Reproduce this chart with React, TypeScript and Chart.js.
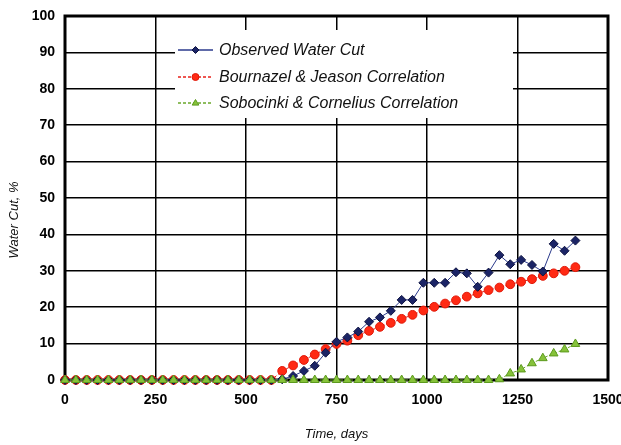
import React, { useEffect, useRef } from "react";
import { Chart, registerables } from "chart.js";

Chart.register(...registerables);

// Sampling days (every 30 days)
const days = [
  0, 30, 60, 90, 120, 150, 180, 210, 240, 270, 300, 330, 360, 390, 420, 450,
  480, 510, 540, 570, 600, 630, 660, 690, 720, 750, 780, 810, 840, 870, 900,
  930, 960, 990, 1020, 1050, 1080, 1110, 1140, 1170, 1200, 1230, 1260, 1290,
  1320, 1350, 1380, 1410,
];

// Water cut, %
const observed = [
  0, 0, 0, 0, 0, 0, 0, 0, 0, 0, 0, 0, 0, 0, 0, 0, 0, 0, 0, 0, 0.2, 1.1, 2.5,
  3.9, 7.5, 10.5, 11.7, 13.3, 16.0, 17.2, 19.0, 22.0, 22.0, 26.7, 26.7, 26.7,
  29.6, 29.3, 25.6, 29.5, 34.3, 31.8, 33.0, 31.6, 29.8, 37.4, 35.5, 38.3,
];
const bournazel = [
  0, 0, 0, 0, 0, 0, 0, 0, 0, 0, 0, 0, 0, 0, 0, 0, 0, 0, 0, 0, 2.5, 4.0, 5.5,
  7.0, 8.5, 9.9, 10.8, 12.3, 13.5, 14.6, 15.7, 16.8, 17.9, 19.1, 20.1, 21.0,
  21.9, 22.9, 23.8, 24.7, 25.4, 26.3, 27.0, 27.7, 28.6, 29.3, 30.0, 31.0,
];
const sobocinki = [
  0, 0, 0, 0, 0, 0, 0, 0, 0, 0, 0, 0, 0, 0, 0, 0, 0, 0, 0, 0, 0, 0, 0, 0, 0, 0,
  0, 0, 0, 0, 0, 0, 0, 0, 0, 0, 0, 0, 0, 0, 0.2, 1.8, 2.9, 4.6, 6.0, 7.3, 8.4,
  9.9,
];

const seriesLabels = [
  "Observed Water Cut",
  "Bournazel & Jeason Correlation",
  "Sobocinki & Cornelius Correlation",
];
const xTitle = "Time, days";
const yTitle = "Water Cut, %";

const NAVY = "#1b2466";
const RED = "#ff2a14";
const GREEN = "#86c23a";

const tickFont = {
  family: "'Liberation Sans Narrow', 'Arial Narrow', 'Liberation Sans', Arial, sans-serif",
  size: 14,
  weight: "bold" as const,
};

function toPoints(vals: number[]) {
  return days.map((d, i) => ({ x: d, y: vals[i] }));
}

function drawMarker(ctx: CanvasRenderingContext2D, style: string, x: number, y: number, r: number) {
  ctx.beginPath();
  if (style === "rectRot") {
    ctx.moveTo(x, y - r);
    ctx.lineTo(x + r, y);
    ctx.lineTo(x, y + r);
    ctx.lineTo(x - r, y);
    ctx.closePath();
  } else if (style === "triangle") {
    ctx.moveTo(x, y - r);
    ctx.lineTo(x + r * 0.95, y + r * 0.6);
    ctx.lineTo(x - r * 0.95, y + r * 0.6);
    ctx.closePath();
  } else {
    ctx.arc(x, y, r, 0, Math.PI * 2);
  }
  ctx.fill();
  ctx.stroke();
}

// Frame around the plot area, drawn over grid lines but under the series
const framePlugin = {
  id: "frame",
  beforeDatasetsDraw(chart: any) {
    const { ctx, chartArea: a } = chart;
    ctx.save();
    ctx.strokeStyle = "#000";
    ctx.lineWidth = 3;
    ctx.strokeRect(a.left, a.top, a.right - a.left, a.bottom - a.top);
    ctx.restore();
  },
};

// Boxed legend inside the plot plus axis titles
const legendPlugin = {
  id: "insideLegend",
  afterDatasetsDraw(chart: any) {
    const { ctx, chartArea: a } = chart;
    ctx.save();
    ctx.fillStyle = "#fff";
    ctx.fillRect(175, 30, 338, 88);

    const rows = [50, 77, 103];
    chart.data.datasets.forEach((ds: any, i: number) => {
      const y = rows[i];
      ctx.strokeStyle = ds.borderColor;
      ctx.lineWidth = 1.5;
      ctx.setLineDash(ds.borderDash || []);
      ctx.beginPath();
      ctx.moveTo(178, y);
      ctx.lineTo(213, y);
      ctx.stroke();
      ctx.setLineDash([]);
      ctx.fillStyle = ds.pointBackgroundColor;
      ctx.strokeStyle = ds.pointBorderColor;
      ctx.lineWidth = 1;
      drawMarker(ctx, ds.pointStyle, 195.5, y, 3.5);

      ctx.fillStyle = "#111";
      ctx.font = "italic 16px 'Liberation Sans', Arial, sans-serif";
      ctx.textBaseline = "middle";
      ctx.textAlign = "left";
      ctx.fillText(ds.label, 219, y + 1);
    });

    ctx.fillStyle = "#111";
    ctx.font = "italic 13px 'Liberation Sans', Arial, sans-serif";
    ctx.textAlign = "center";
    ctx.textBaseline = "middle";
    ctx.fillText(xTitle, (a.left + a.right) / 2, 434);

    ctx.translate(14, 220);
    ctx.rotate(-Math.PI / 2);
    ctx.fillText(yTitle, 0, 0);
    ctx.restore();
  },
};

export default function App() {
  const ref = useRef<HTMLCanvasElement>(null);

  useEffect(() => {
    if (!ref.current) return;
    const chart = new Chart(ref.current, {
      type: "line",
      data: {
        datasets: [
          {
            label: seriesLabels[0],
            data: toPoints(observed),
            borderColor: "#2b3a8c",
            borderWidth: 1,
            pointStyle: "rectRot",
            pointRadius: 4.5,
            pointBackgroundColor: NAVY,
            pointBorderColor: "#0d1240",
            pointBorderWidth: 1,
            clip: false as any,
            order: 1,
          },
          {
            label: seriesLabels[1],
            data: toPoints(bournazel),
            borderColor: "#e8201a",
            borderDash: [3, 2],
            borderWidth: 1,
            pointStyle: "circle",
            pointRadius: 4.4,
            pointBackgroundColor: RED,
            pointBorderColor: "#e01808",
            pointBorderWidth: 1,
            clip: false as any,
            order: 2,
          },
          {
            label: seriesLabels[2],
            data: toPoints(sobocinki),
            borderColor: "#6aa82a",
            borderDash: [3, 2],
            borderWidth: 1,
            pointStyle: "triangle",
            pointRadius: 5,
            pointBackgroundColor: GREEN,
            pointBorderColor: "#5c9a1e",
            pointBorderWidth: 1,
            clip: false as any,
            order: 0,
          },
        ],
      },
      options: {
        responsive: false,
        animation: false,
        layout: { padding: { top: 16, right: 13, left: 0, bottom: 0 } },
        plugins: {
          legend: { display: false },
          tooltip: { enabled: false },
        },
        scales: {
          x: {
            type: "linear",
            min: 0,
            max: 1500,
            ticks: {
              stepSize: 250,
              color: "#000",
              font: tickFont,
              padding: 12,
              maxRotation: 0,
              callback: (v: any) => String(v),
            },
            grid: { color: "#000", lineWidth: 1.5, drawTicks: false },
            border: { display: false },
            afterFit(scale: any) {
              scale.height = 65;
              scale.paddingLeft = 0;
              scale.paddingRight = 0;
            },
          },
          y: {
            min: 0,
            max: 100,
            ticks: { stepSize: 10, color: "#000", font: tickFont, padding: 10 },
            grid: { color: "#000", lineWidth: 1.5, drawTicks: false },
            border: { display: false },
            afterFit(scale: any) {
              scale.width = 65;
              scale.paddingTop = 0;
              scale.paddingBottom = 0;
            },
          },
        },
      },
      plugins: [framePlugin, legendPlugin],
    });
    return () => chart.destroy();
  }, []);

  return (
    <div style={{ position: "fixed", left: 0, top: 0, width: 621, height: 445, background: "#fff" }}>
      <canvas ref={ref} width={621} height={445} style={{ display: "block" }} />
    </div>
  );
}
